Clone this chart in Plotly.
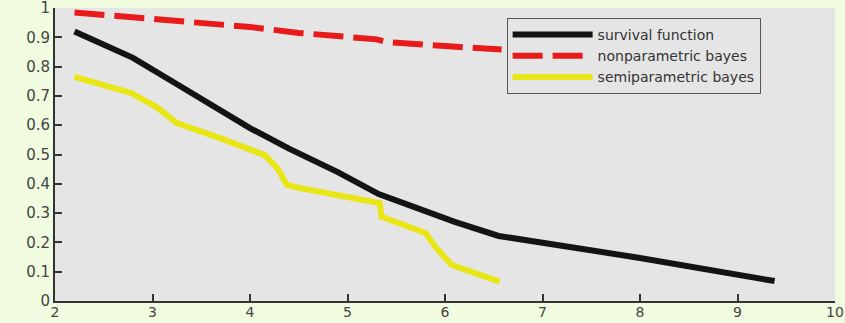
import plotly.graph_objects as go

surv_x = [2.2, 2.8, 3.2, 3.6, 4.0, 4.4, 4.9, 5.32, 5.8, 6.1, 6.55, 7.0, 8.0, 9.38]
surv_y = [0.92, 0.83, 0.75, 0.67, 0.59, 0.52, 0.44, 0.365, 0.305, 0.27, 0.222, 0.2, 0.147, 0.068]

nonpar_x = [2.2, 3.0, 4.0, 4.5, 5.0, 5.3, 5.4, 5.8, 6.0, 6.58]
nonpar_y = [0.985, 0.965, 0.935, 0.915, 0.90, 0.893, 0.884, 0.877, 0.87, 0.858]

semi_x = [2.2, 2.78, 3.05, 3.25, 3.7, 4.15, 4.28, 4.38, 4.5, 5.33, 5.35, 5.8, 5.92, 6.07, 6.56]
semi_y = [0.765, 0.71, 0.66, 0.607, 0.555, 0.498, 0.454, 0.396, 0.386, 0.334, 0.287, 0.232, 0.177, 0.123, 0.066]

x_ticks = [2, 3, 4, 5, 6, 7, 8, 9, 10]
y_ticks = [0, 0.1, 0.2, 0.3, 0.4, 0.5, 0.6, 0.7, 0.8, 0.9, 1]
y_tick_labels = ["0", "0.1", "0.2", "0.3", "0.4", "0.5", "0.6", "0.7", "0.8", "0.9", "1"]

fig = go.Figure()
fig.add_trace(go.Scatter(x=surv_x, y=surv_y, mode="lines", name="survival function",
                         line=dict(color="#141414", width=6)))
fig.add_trace(go.Scatter(x=nonpar_x, y=nonpar_y, mode="lines", name="nonparametric bayes",
                         line=dict(color="#e81a1a", width=6, dash="30px,10px")))
fig.add_trace(go.Scatter(x=semi_x, y=semi_y, mode="lines", name="semiparametric bayes",
                         line=dict(color="#e8e614", width=6)))

axis_common = dict(showline=True, linecolor="#333333", linewidth=2, ticks="inside",
                   ticklen=7, tickwidth=2, tickcolor="#333333", showgrid=False,
                   zeroline=False, automargin=False, ticklabeloverflow="allow")

fig.update_layout(
    width=845, height=323,
    margin=dict(l=55, r=10, t=8, b=22),
    paper_bgcolor="#f0fbdf",
    plot_bgcolor="#e5e5e5",
    xaxis=dict(range=[2, 10], tickvals=x_ticks, ticklabelstandoff=-3,
               tickfont=dict(family="DejaVu Sans", size=14, color="#444444"), **axis_common),
    yaxis=dict(range=[0, 1], tickvals=y_ticks, ticktext=y_tick_labels,
               tickfont=dict(family="DejaVu Sans", size=15, color="#444444"), **axis_common),
    legend=dict(x=0.579, y=0.966, xanchor="left", yanchor="top",
                bgcolor="#e5e5e5", bordercolor="#555555", borderwidth=1,
                font=dict(family="DejaVu Sans", size=14, color="#333333"),
                itemwidth=80, tracegroupgap=0),
    showlegend=True,
)

fig.write_html("out.html", config={"displayModeBar": False},
               post_script="document.body.style.margin='0';document.body.style.background='#f0fbdf';document.body.style.overflow='hidden';")
